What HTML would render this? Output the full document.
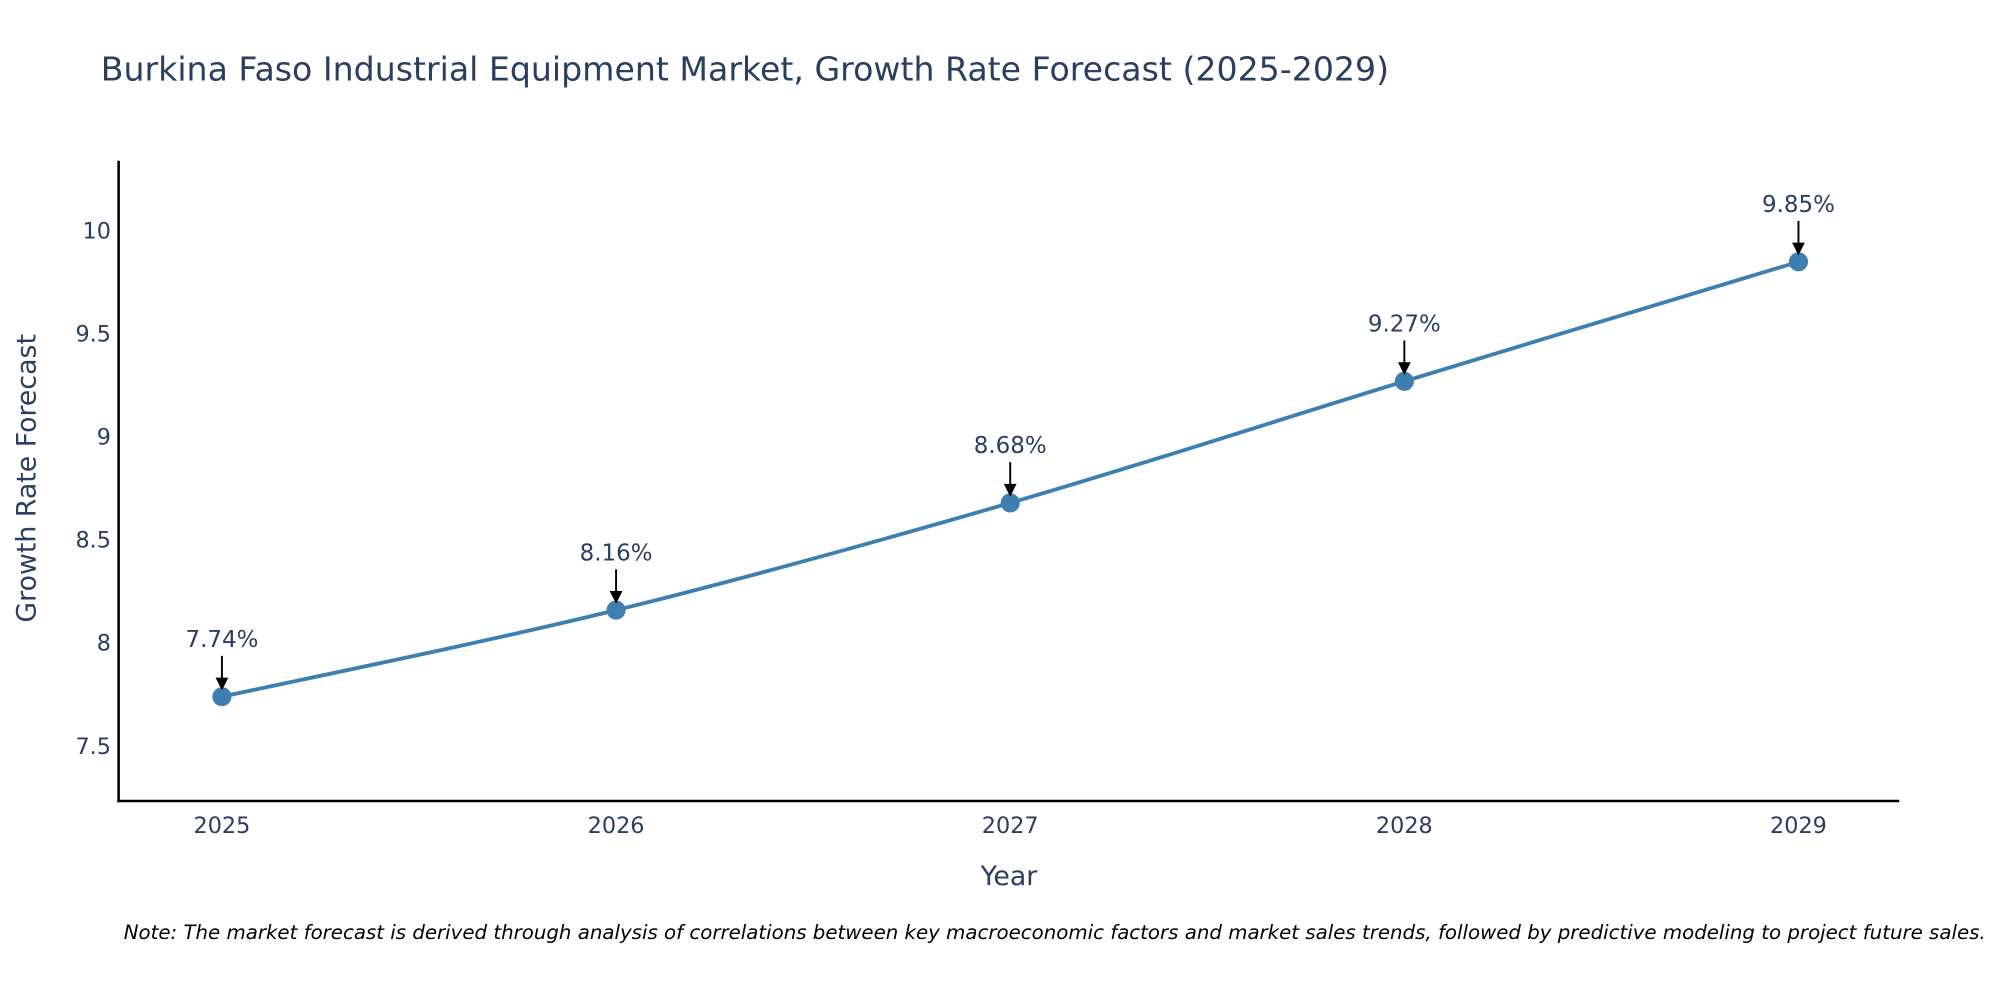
<!DOCTYPE html>
<html><head><meta charset="utf-8"><style>
html,body{margin:0;padding:0;background:#fff;}
svg{display:block;font-family:"DejaVu Sans","Liberation Sans",sans-serif;}
</style></head><body>
<svg id="chart" width="2000" height="1000" viewBox="0 0 1568 784">
<text x="79" y="63" font-size="26" fill="#2a3f5f">Burkina Faso Industrial Equipment Market, Growth Rate Forecast (2025-2029)</text>
<g id="yticks"></g>
<g id="xticks"></g>
<line x1="93" y1="126" x2="93" y2="629" stroke="#000" stroke-width="2"/>
<line x1="92" y1="628" x2="1489" y2="628" stroke="#000" stroke-width="2"/>
<g id="series"></g>
<g id="annots"></g>
<text transform="translate(28,375) rotate(-90)" text-anchor="middle" font-size="21" fill="#2a3f5f">Growth Rate Forecast</text>
<text x="791" y="694" text-anchor="middle" font-size="21" fill="#2a3f5f">Year</text>
<text x="97" y="736" font-size="15.5" font-style="italic" fill="#000">Note: The market forecast is derived through analysis of correlations between key macroeconomic factors and market sales trends, followed by predictive modeling to project future sales.</text>
</svg>
<script>
const years = [2025, 2026, 2027, 2028, 2029];
const growth = [7.74, 8.16, 8.68, 9.27, 9.85];
const yTickValues = [7.5, 8, 8.5, 9, 9.5, 10];
const yTickLabels = ["7.5", "8", "8.5", "9", "9.5", "10"];
const NS = "http://www.w3.org/2000/svg";
function xScale(yr){ return 174 + (yr - 2025) * (1410 - 174) / 4; }
function yScale(v){ return 585 - (v - 7.5) * (585 - 181) / 2.5; }
function mk(tag, attrs, parent){ const e = document.createElementNS(NS, tag); for (const k in attrs) e.setAttribute(k, attrs[k]); parent.appendChild(e); return e; }
const yt = document.getElementById('yticks');
yTickValues.forEach((v, i) => {
  const t = mk('text', {x: 87, y: yScale(v) + 6, 'text-anchor': 'end', 'font-size': 17.5, fill: '#2a3f5f'}, yt);
  
  
  t.textContent = yTickLabels[i];
});
const xt = document.getElementById('xticks');
years.forEach(yr => {
  const t = mk('text', {x: xScale(yr), y: 653, 'text-anchor': 'middle', 'font-size': 17.5, fill: '#2a3f5f'}, xt);
  
  
  t.textContent = String(yr);
});
const pts = years.map((yr, i) => [xScale(yr), yScale(growth[i])]);
let d = 'M' + pts[0][0] + ',' + pts[0][1];
for (let i = 0; i < pts.length - 1; i++) {
  const p0 = pts[Math.max(0, i - 1)], p1 = pts[i], p2 = pts[i + 1], p3 = pts[Math.min(pts.length - 1, i + 2)];
  const s = 6;
  d += ' C' + (p1[0] + (p2[0] - p0[0]) / s) + ',' + (p1[1] + (p2[1] - p0[1]) / s) + ' ' + (p2[0] - (p3[0] - p1[0]) / s) + ',' + (p2[1] - (p3[1] - p1[1]) / s) + ' ' + p2[0] + ',' + p2[1];
}
const sg = document.getElementById('series');
const line = mk('path', {d: d, fill: 'none', stroke: '#3d7fb0', 'stroke-width': 3}, sg);


const ag = document.getElementById('annots');
pts.forEach((p, i) => {
  const c = mk('circle', {cx: p[0], cy: p[1], r: 7.5, fill: '#3d7fb0'}, sg);
  
  
  const ar = mk('line', {x1: p[0], y1: p[1] - 32, x2: p[0], y2: p[1] - 14, stroke: '#000', 'stroke-width': 1.5}, ag);
  
  
  const hd = mk('path', {d: 'M' + (p[0] - 5) + ',' + (p[1] - 15) + ' L' + (p[0] + 5) + ',' + (p[1] - 15) + ' L' + p[0] + ',' + (p[1] - 5) + ' Z', fill: '#000'}, ag);
  
  
  const t = mk('text', {x: p[0], y: p[1] - 39, 'text-anchor': 'middle', 'font-size': 18, fill: '#2a3f5f'}, ag);
  
  
  t.textContent = growth[i].toFixed(2) + '%';
});
</script>
</body></html>
